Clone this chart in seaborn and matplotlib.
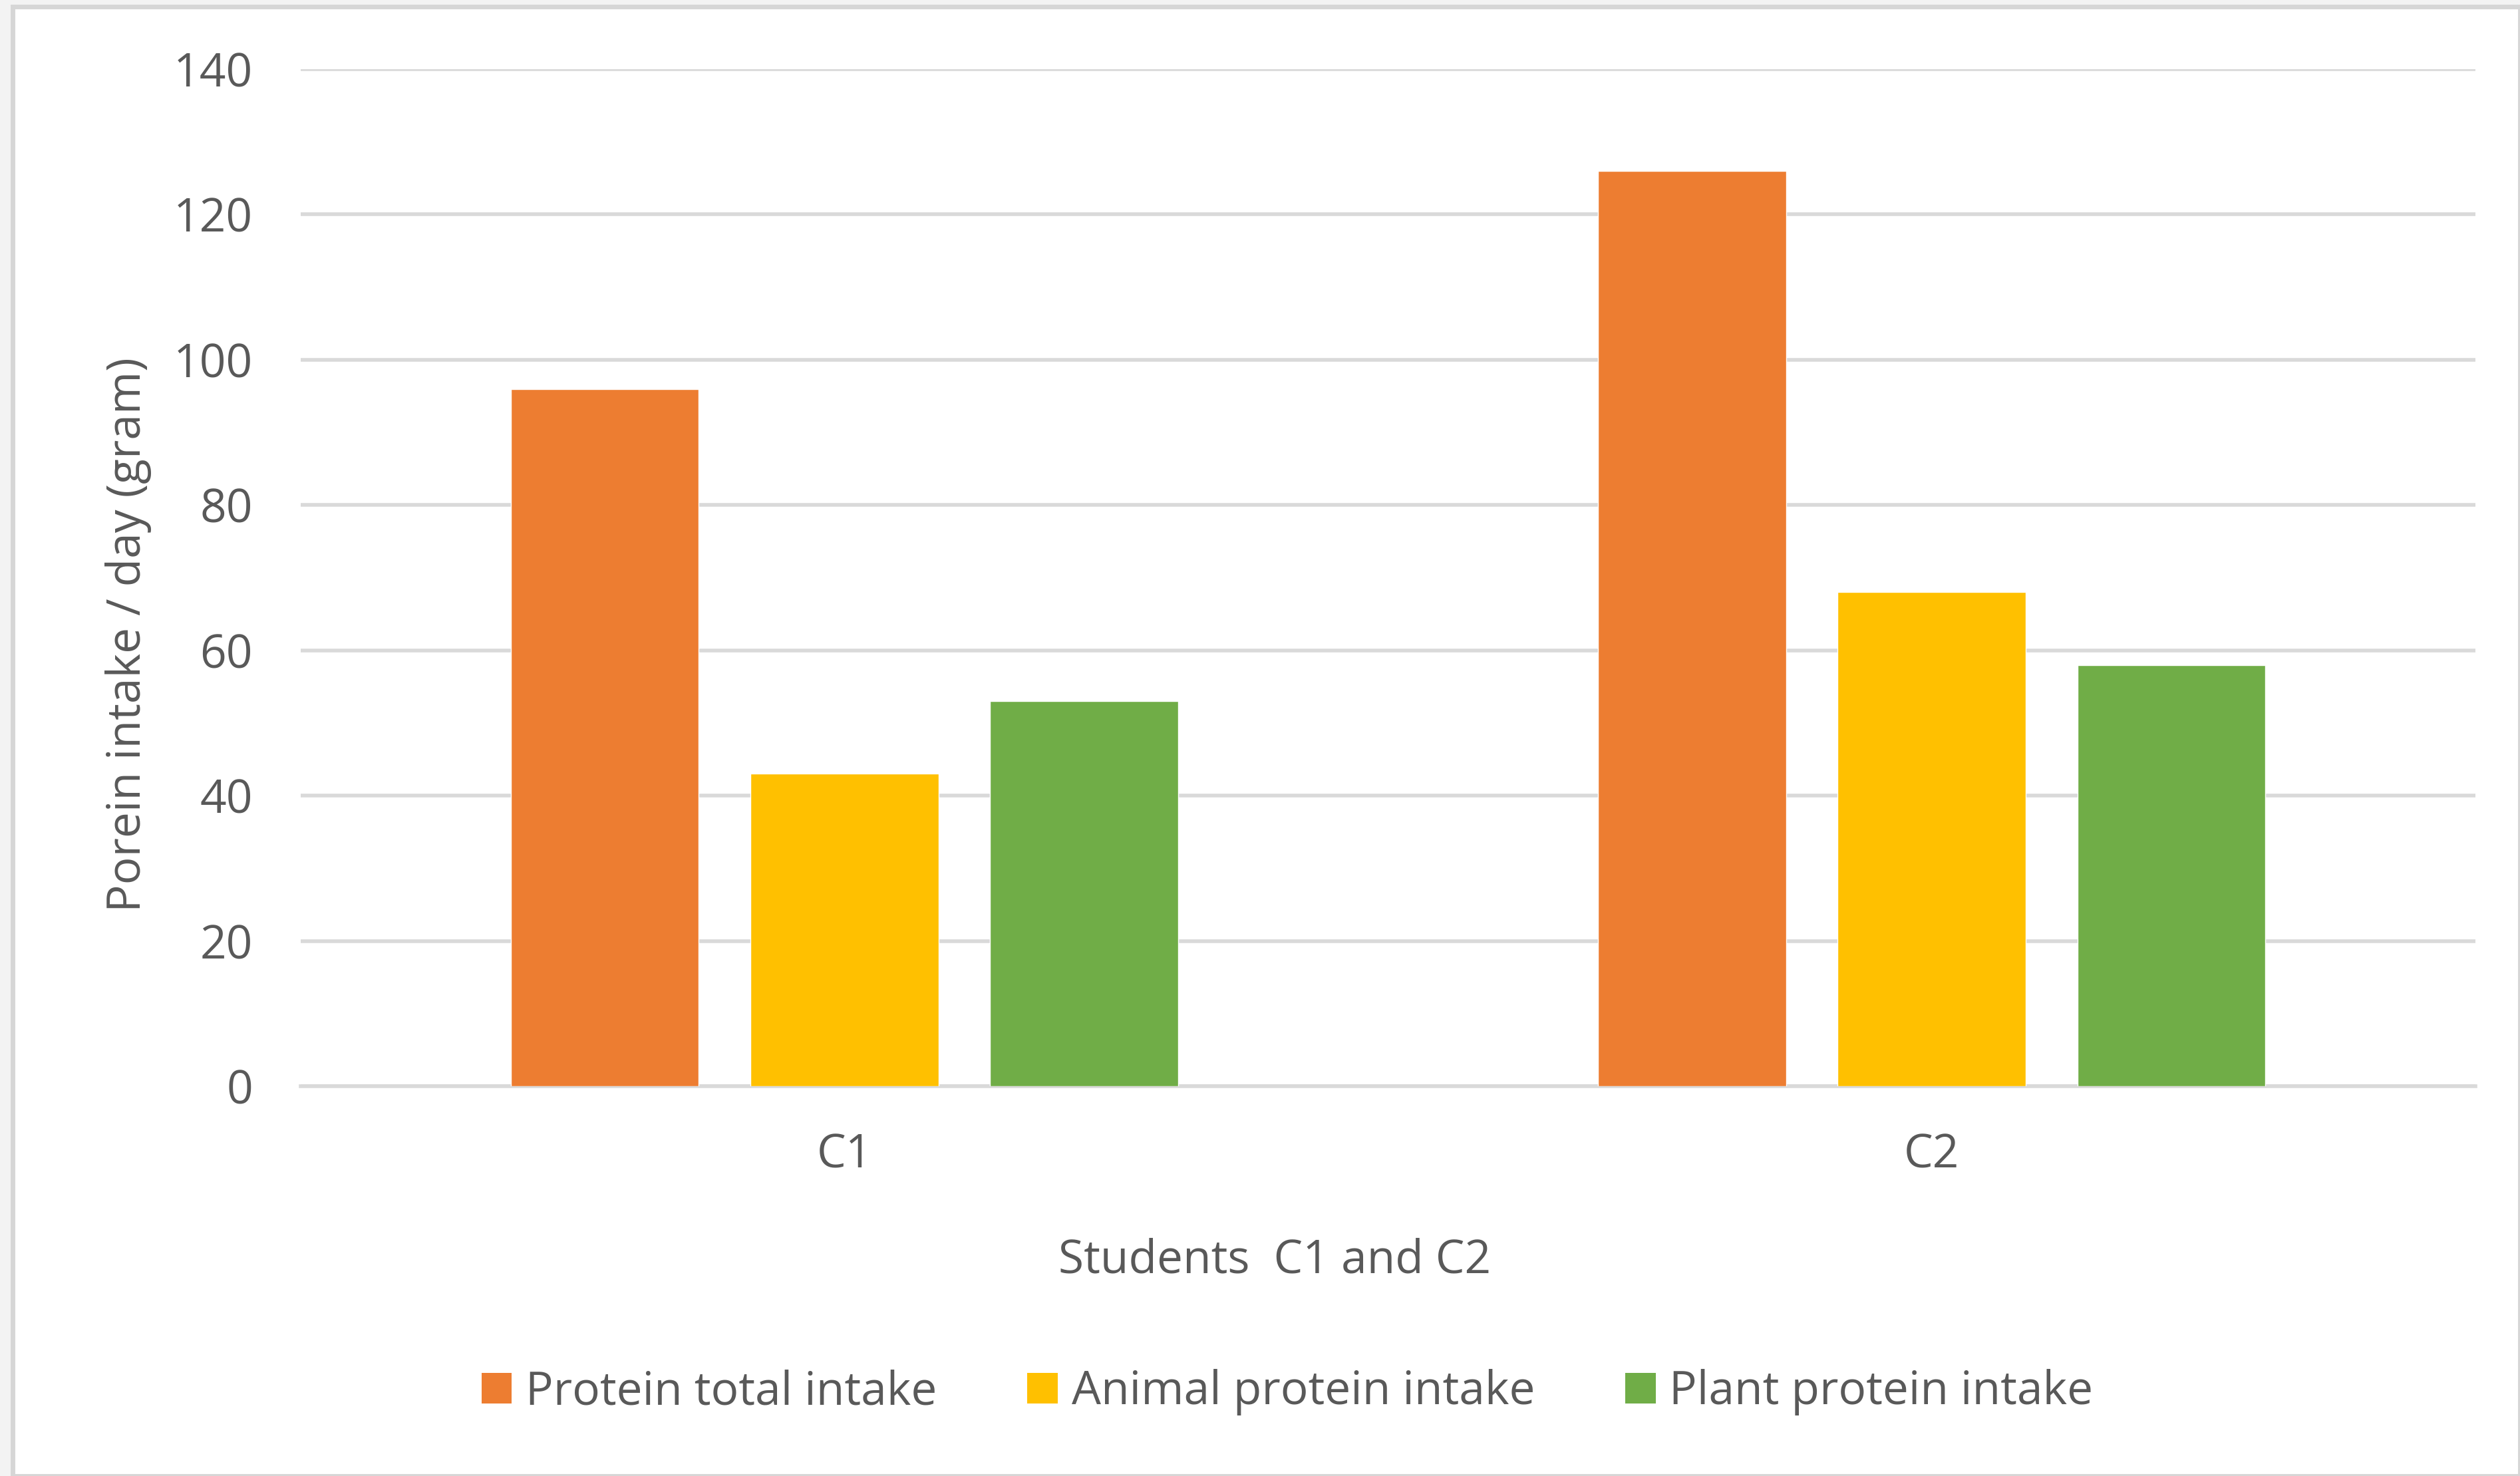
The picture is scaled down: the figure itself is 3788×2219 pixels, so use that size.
import matplotlib
matplotlib.use("Agg")
import matplotlib.pyplot as plt
from matplotlib.patches import Rectangle, Patch
import seaborn as sns
import pandas as pd

students = ["C1", "C2"]
series = ["Protein total intake", "Animal protein intake", "Plant protein intake"]
total_intake = [96, 126]
animal_intake = [43, 68]
plant_intake = [53, 58]
colors = ["#ED7D31", "#FFC000", "#70AD47"]
y_ticks = [0, 20, 40, 60, 80, 100, 120, 140]

df = pd.DataFrame({
    "student": students * 3,
    "series": [series[0]] * 2 + [series[1]] * 2 + [series[2]] * 2,
    "value": total_intake + animal_intake + plant_intake,
})

sns.set_theme(style="white")
plt.rcParams["font.family"] = ["Open Sans", "DejaVu Sans"]
text_color = "#595959"
fs = 50

W, H, DPI = 3788, 2219, 100
fig = plt.figure(figsize=(W / DPI, H / DPI), dpi=DPI)
fig.patch.set_facecolor("#f3f3f3")

# chart area frame
frame = Rectangle((8 / 1568, 0), 1 - 8 / 1568, 1 - 4 / 919, transform=fig.transFigure,
                  facecolor="white", edgecolor="#d6d6d6", linewidth=5, zorder=-10)
fig.patches.append(frame)

ax = fig.add_axes([452 / W, 1 - 1633 / H, (3721 - 452) / W, (1633 - 104) / H])
ax.set_zorder(5)
ax.set_facecolor("none")

sns.barplot(data=df, x="student", y="value", hue="series", hue_order=series,
            palette=colors, width=0.661, gap=0.215, saturation=1, ax=ax,
            legend=False, zorder=3)

ax.set_xlim(-0.5, 1.5)
ax.set_ylim(0, 140)
ax.set_yticks(y_ticks)
ax.yaxis.grid(True, color="#d9d9d9", linewidth=4, zorder=0)
ax.set_axisbelow(True)
for s in ["top", "right", "left"]:
    ax.spines[s].set_visible(False)
ax.spines["bottom"].set_color("#d9d9d9")
ax.spines["bottom"].set_linewidth(4)
ax.tick_params(axis="both", length=0, labelsize=fs, colors=text_color)
ax.tick_params(axis="y", pad=52)
ax.tick_params(axis="x", pad=50)
ax.set_xlabel("")
ax.set_ylabel("")

fig.text(793 / 1568, 1 - 785 / 919, "Students  C1 and C2", ha="center", va="center",
         fontsize=fs, color=text_color)
fig.text(80 / 1568, 1 - 395 / 919, "Porein intake / day (gram)", ha="center", va="center",
         rotation=90, fontsize=fs, color=text_color)

handles = [Patch(facecolor=c, edgecolor="none") for c in colors]
fig.legend(handles, series, loc="center", bbox_to_anchor=(801 / 1568, 1 - 867 / 919),
           ncol=3, frameon=False, fontsize=fs, labelcolor=text_color,
           handlelength=0.66, handleheight=0.66, handletextpad=0.3, columnspacing=1.95)

fig.savefig("out.png", dpi=DPI, facecolor=fig.get_facecolor())
